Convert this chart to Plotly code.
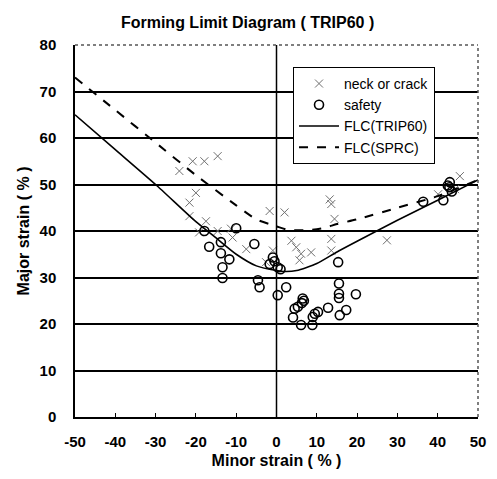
import plotly.graph_objects as go

# neck or crack points
neck_x = [-24.1, -20.8, -17.9, -14.6, -20.0, -21.6, -21.6, -17.5, -14.6, -11.3, -10.9, -19.2,
          -7.5, -2.6, -1.7, 2.0, 13.2, 13.6, 14.4, 13.6, 3.7, 4.9, 6.1, 8.6, 5.7, 13.6, -0.9,
          27.4, 40.1, 44.3, 45.5]
neck_y = [52.9, 55.0, 55.0, 56.1, 48.2, 46.1, 43.2, 42.1, 40.0, 40.5, 38.6, 39.7,
          36.1, 33.3, 44.3, 44.0, 46.8, 45.8, 42.6, 38.3, 37.9, 36.5, 35.1, 35.4, 33.7, 35.8, 35.8,
          38.0, 47.9, 49.0, 51.8]

# safety points
safe_x = [-17.9, -10.0, -13.8, -16.7, -5.5, -13.8, -11.7, -13.4, -13.4, -4.6, -4.2, -0.9,
          -1.7, 0.3, -0.5, 1.0, 0.3, 2.4, 15.3, 15.5, 15.5, 15.5, 19.7, 17.3, 15.7, 6.5, 6.8,
          6.3, 5.3, 4.5, 4.1, 6.1, 8.9, 9.0, 9.5, 10.3, 12.8, 36.4, 41.4, 42.9, 43.0, 43.5, 42.5]
safe_y = [40.0, 40.6, 37.6, 36.6, 37.2, 35.2, 33.9, 32.2, 29.9, 29.4, 27.9, 34.3,
          32.9, 32.2, 33.5, 31.8, 26.2, 27.9, 33.3, 28.7, 26.5, 25.6, 26.4, 23.0, 21.9, 25.5, 25.0,
          24.5, 23.7, 23.3, 21.4, 19.8, 19.8, 21.5, 22.2, 22.6, 23.5, 46.3, 46.6, 49.4, 50.5, 48.5, 49.8]

# FLC (TRIP60)
trip_x = [-50, -40, -30, -20, -15, -10, -5, 0, 2, 5, 10, 15, 20, 30, 40, 50]
trip_y = [65, 57.5, 50, 42, 38.5, 35, 32.5, 31.5, 31.3, 31.5, 33, 35.5, 37.8, 42.3, 46.6, 51]

# FLC (SPRC)
sprc_x = [-50, -40, -30, -20, -10, -5, 0, 3, 8, 12, 15, 20, 30, 40, 50]
sprc_y = [73, 66, 59, 52, 45.5, 42.5, 41, 40.2, 40.2, 40.7, 41.5, 42.5, 45, 47.5, 51]

x_ticks = [-50, -40, -30, -20, -10, 0, 10, 20, 30, 40, 50]
y_ticks = [0, 10, 20, 30, 40, 50, 60, 70, 80]

FONT = "Liberation Sans"

fig = go.Figure()
fig.add_trace(go.Scatter(x=neck_x, y=neck_y, mode="markers", name="neck or crack",
                         marker=dict(symbol="x-thin-open", size=8, color="#707070",
                                     line=dict(width=1, color="#707070"))))
fig.add_trace(go.Scatter(x=safe_x, y=safe_y, mode="markers", name="safety",
                         marker=dict(symbol="circle-open", size=9, color="black",
                                     line=dict(width=1.6, color="black"))))
fig.add_trace(go.Scatter(x=trip_x, y=trip_y, mode="lines", name="FLC(TRIP60)",
                         line=dict(color="black", width=1.6, shape="spline", smoothing=0.6)))
fig.add_trace(go.Scatter(x=sprc_x, y=sprc_y, mode="lines", name="FLC(SPRC)",
                         line=dict(color="black", width=2, dash="dash", shape="spline", smoothing=0.6)))

# vertical zero line
fig.add_vline(x=0, line=dict(color="black", width=1.5))
# dotted top/right borders (scanned look)
fig.add_shape(type="line", xref="paper", yref="paper", x0=0, x1=1, y0=1, y1=1,
              line=dict(color="#555555", width=1.5, dash="dot"))
fig.add_shape(type="line", xref="paper", yref="paper", x0=1, x1=1, y0=0, y1=1,
              line=dict(color="#555555", width=1.5, dash="dot"))

fig.update_layout(
    width=489, height=471,
    margin=dict(l=67, r=19, t=37, b=62),
    paper_bgcolor="white", plot_bgcolor="white",
    font=dict(family=FONT, size=15, color="black"),
    title=dict(text="Forming Limit Diagram ( TRIP60 )", x=0.49, xanchor="center",
               y=0.97, yanchor="middle",
               font=dict(family=FONT, size=16, color="black", weight="bold")),
    showlegend=True,
    legend=dict(x=0.541, y=0.941, xanchor="left", yanchor="top",
                bgcolor="white", bordercolor="black", borderwidth=1,
                font=dict(family=FONT, size=14, color="black"),
                tracegroupgap=0, itemwidth=40),
    xaxis=dict(range=[-50, 50], tickvals=x_ticks, ticktext=[str(v) for v in x_ticks],
               showgrid=False, zeroline=False, showline=True, linecolor="black", linewidth=1.5,
               ticks="inside", ticklen=4, tickcolor="black", ticklabelstandoff=10,
               title=dict(text="Minor strain ( % )", standoff=6,
                          font=dict(family=FONT, size=16, weight="bold")),
               tickfont=dict(family=FONT, size=15, weight="bold")),
    yaxis=dict(range=[0, 80], tickvals=y_ticks, ticktext=[str(v) for v in y_ticks],
               showgrid=True, gridcolor="black", gridwidth=1.5, zeroline=False,
               showline=True, linecolor="black", linewidth=1.5, ticklabelstandoff=14,
               ticks="", title=dict(text="Major strain ( % )", standoff=6,
                                    font=dict(family=FONT, size=16, weight="bold")),
               tickfont=dict(family=FONT, size=15, weight="bold")),
)

fig.write_html("out.html")
